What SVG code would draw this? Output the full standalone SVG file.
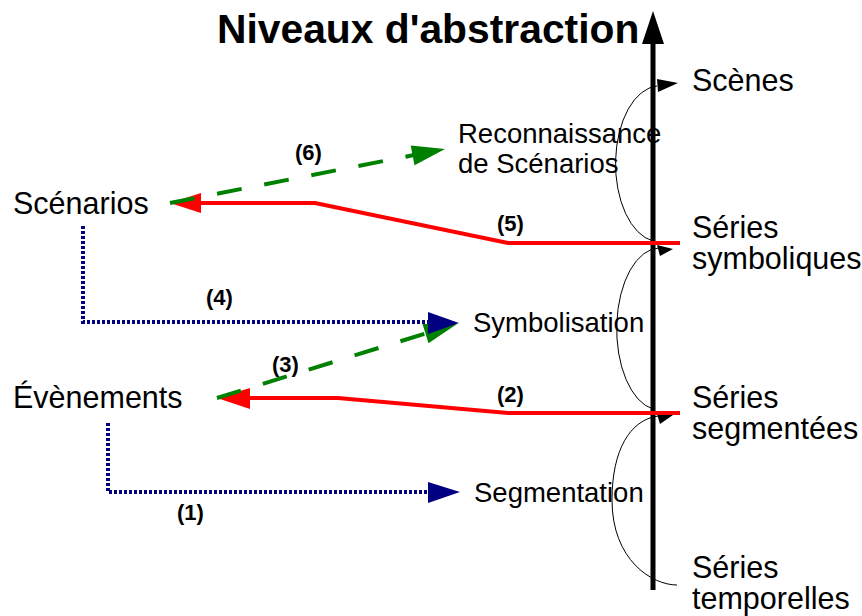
<svg xmlns="http://www.w3.org/2000/svg" width="862" height="616" viewBox="0 0 862 616">
<style>
.lbl{font-family:"Liberation Sans",Arial,sans-serif;font-size:30.5px;fill:#000}
.mid{font-family:"Liberation Sans",Arial,sans-serif;font-size:27.5px;fill:#000}
.num{font-family:"Liberation Sans",Arial,sans-serif;font-size:22px;font-weight:bold;fill:#000}
.title{font-family:"Liberation Sans",Arial,sans-serif;font-size:40.8px;font-weight:bold;fill:#000}
.red{fill:none;stroke:#ff0000;stroke-width:4}
.grn{fill:none;stroke:#008000;stroke-width:4;stroke-dasharray:25 23}
.nav{fill:none;stroke:#000080;stroke-width:4;stroke-dasharray:3 2}
.arc{fill:none;stroke:#000;stroke-width:1}
</style>
<rect width="862" height="616" fill="#fff"/>
<g id="title"><text class="title" x="217" y="43">Niveaux d'abstraction</text></g>
<g id="axis">
<line x1="653" y1="590" x2="653" y2="40" stroke="#000" stroke-width="5"/>
<polygon points="642,44 653,11 664,44" fill="#000"/>
<path class="arc" d="M653 241 A44 78 0 0 1 657 86"/>
<polygon points="657,79 678,83 658,92" fill="#000"/>
<path class="arc" d="M653 409 A43 81 0 0 1 659 248"/>
<polygon points="657,245 673,249 660,256" fill="#000"/>
<path class="arc" d="M677 585 C652 585 612 560 612 500 C612 450 630 420 658 416"/>
<polygon points="657,414 673,415 660,424" fill="#000"/>
</g>
<g id="connectors">
<polyline class="red" points="680,243 508,243 315,203 198,203"/>
<polygon points="170,203 201,193 201,213" fill="#ff0000"/>
<polyline class="red" points="680,413 508,413 338,398 247,398"/>
<polygon points="217,398 250,388 250,409" fill="#ff0000"/>
<line class="grn" x1="170" y1="203" x2="414" y2="155"/>
<polygon points="445,149 410.7,145.6 414.5,165.2" fill="#008000"/>
<line class="grn" x1="217" y1="398" x2="427" y2="333"/>
<polygon points="457,324 422.5,324.1 428.5,343.3" fill="#008000"/>
<polyline class="nav" points="83,226 83,322 430,322"/>
<polygon points="459,323 428,312 428,334" fill="#000080"/>
<polyline class="nav" points="108,423 108,492 430,492"/>
<polygon points="460,492 428,482 428,503" fill="#000080"/>
</g>
<g id="n-scenes"><text class="lbl" x="692" y="91">Scènes</text></g>
<g id="n-series-symb"><text class="lbl" x="692" y="238">Séries</text><text class="lbl" x="692" y="269">symboliques</text></g>
<g id="n-series-segm"><text class="lbl" x="692" y="408">Séries</text><text class="lbl" x="692" y="439">segmentées</text></g>
<g id="n-series-temp"><text class="lbl" x="692" y="578">Séries</text><text class="lbl" x="692" y="609">temporelles</text></g>
<g id="n-scenarios"><text class="lbl" x="13" y="214">Scénarios</text></g>
<g id="n-evenements"><text class="lbl" x="13" y="408">Évènements</text></g>
<g id="n-reco"><text class="mid" x="458" y="143">Reconnaissance</text><text class="mid" x="458" y="173">de Scénarios</text></g>
<g id="n-symb"><text class="mid" x="473" y="332">Symbolisation</text></g>
<g id="n-segm"><text class="mid" x="474" y="502">Segmentation</text></g>
<g id="labels">
<text class="num" x="295" y="160">(6)</text>
<text class="num" x="497" y="231">(5)</text>
<text class="num" x="206" y="305">(4)</text>
<text class="num" x="272" y="372">(3)</text>
<text class="num" x="497" y="402">(2)</text>
<text class="num" x="177" y="520">(1)</text>
</g>
</svg>
